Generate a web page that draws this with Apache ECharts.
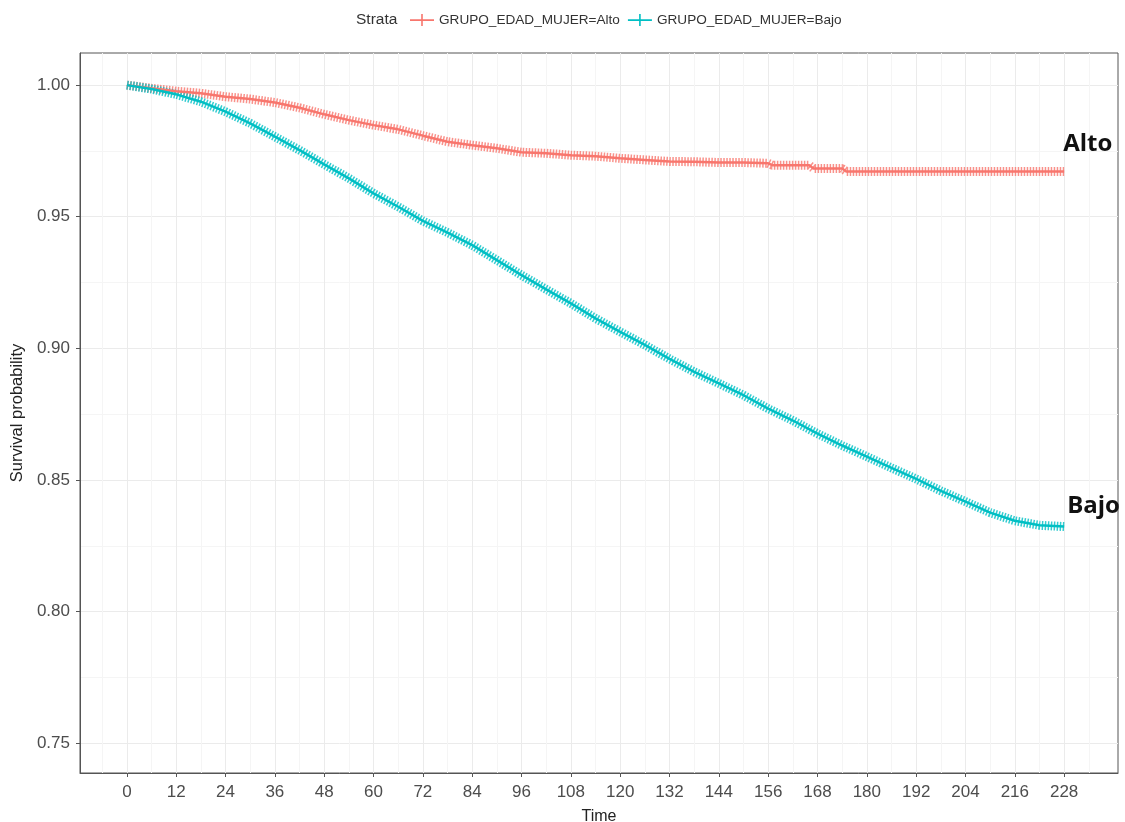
<!DOCTYPE html>
<html>
<head>
<meta charset="utf-8">
<script src="https://cdn.jsdelivr.net/npm/echarts@6/dist/echarts.min.js"></script>
<style>
html,body{margin:0;padding:0;background:#fff;}
#chart{width:1125px;height:822px;}
</style>
</head>
<body>
<div id="chart"></div>
<script>
// ---- data ----
const altoTime = [0, 6, 12, 18, 24, 30, 36, 42, 48, 54, 60, 66, 72, 78, 84, 90, 96, 102, 108, 114, 120, 126, 132, 138, 144, 150, 156, 157, 166, 167, 174, 175, 228];
const altoSurv = [1.000, 0.9988, 0.9977, 0.9969, 0.9956, 0.9947, 0.9934, 0.9914, 0.9889, 0.9867, 0.9848, 0.9832, 0.9808, 0.9785, 0.9772, 0.9760, 0.9745, 0.9741, 0.9734, 0.9730, 0.9722, 0.9716, 0.9710, 0.9709, 0.9706, 0.9706, 0.9703, 0.9696, 0.9696, 0.9683, 0.9683, 0.9672, 0.9672];
const bajoTime = [0, 6, 12, 18, 24, 30, 36, 42, 48, 54, 60, 66, 72, 78, 84, 90, 96, 102, 108, 114, 120, 126, 132, 138, 144, 150, 156, 162, 168, 174, 180, 186, 192, 198, 204, 210, 216, 222, 228];
const bajoSurv = [1.000, 0.9985, 0.9965, 0.9937, 0.9899, 0.9855, 0.9804, 0.9753, 0.9699, 0.9646, 0.9589, 0.9538, 0.9484, 0.9440, 0.9392, 0.9335, 0.9278, 0.9224, 0.9171, 0.9114, 0.9063, 0.9013, 0.8960, 0.8911, 0.8867, 0.8822, 0.8771, 0.8726, 0.8676, 0.8631, 0.8589, 0.8546, 0.8504, 0.8459, 0.8418, 0.8376, 0.8345, 0.8328, 0.8323];
const seriesNames = ['GRUPO_EDAD_MUJER=Alto', 'GRUPO_EDAD_MUJER=Bajo'];
const endLabels = ['Alto', 'Bajo'];
const xTicks = [0, 12, 24, 36, 48, 60, 72, 84, 96, 108, 120, 132, 144, 156, 168, 180, 192, 204, 216, 228];
const xMinor = [-6, 6, 18, 30, 42, 54, 66, 78, 90, 102, 114, 126, 138, 150, 162, 174, 186, 198, 210, 222, 234];
const yTicks = [0.75, 0.80, 0.85, 0.90, 0.95, 1.00];
const yMinor = [0.775, 0.825, 0.875, 0.925, 0.975];
const legendTitle = 'Strata';
const xTitle = 'Time';
const yTitle = 'Survival probability';

const RED = '#F8766D', TEAL = '#00BFC4';
const X_MIN = -11.4, X_MAX = 241.1, Y_MIN = 0.7387, Y_MAX = 1.0122;

const pairs = (t, v) => t.map((x, i) => [x, v[i]]);
const altoData = pairs(altoTime, altoSurv);
const bajoData = pairs(bajoTime, bajoSurv);

const tickFont = {fontFamily: 'Liberation Sans', fontSize: 17, color: '#4d4d4d'};
const axisCol = '#555';
const NONE = 'rgba(0,0,0,0)';

const legendIcon = 'path://M0,5.3 L24,5.3 L24,6.9 L0,6.9 Z M11.2,0 L12.8,0 L12.8,12 L11.2,12 Z';

function mainSeries(name, data, color, label, offset) {
  return {
    type: 'line', name: name, data: data, symbol: 'none', z: 4,
    lineStyle: {color: color, width: 2.5},
    itemStyle: {color: color},
    emphasis: {disabled: true},
    animation: false,
    endLabel: {
      show: true, formatter: label, offset: offset,
      fontFamily: 'Open Sans', fontWeight: 'bold', fontSize: 24, color: '#111'
    }
  };
}
function hatchSeries(name, data, color) {
  return {
    type: 'line', name: name, data: data, symbol: 'none', z: 3, silent: true,
    lineStyle: {color: color, width: 9, type: [1.5, 1.5], opacity: 0.8},
    emphasis: {disabled: true},
    animation: false
  };
}

const chart = echarts.init(document.getElementById('chart'), null, {renderer: 'canvas'});
chart.setOption({
  backgroundColor: '#fff',
  animation: false,
  title: {
    text: legendTitle, left: 351, top: 7,
    textStyle: {fontFamily: 'Liberation Sans', fontSize: 15.5, fontWeight: 'normal', color: '#333'}
  },
  legend: {
    data: seriesNames.map(n => ({name: n, icon: legendIcon})),
    left: 405, top: 8, itemWidth: 24, itemHeight: 12, itemGap: 8,
    textStyle: {fontFamily: 'Liberation Sans', fontSize: 13.6, color: '#333'}
  },
  grid: {left: 80, right: 7, top: 53, bottom: 49, show: true, borderColor: axisCol, borderWidth: 1,
         containLabel: false, outerBoundsMode: 'none'},
  xAxis: [
    {
      type: 'value', min: X_MIN, max: X_MAX, position: 'bottom',
      name: xTitle, nameLocation: 'middle', nameGap: 36,
      nameTextStyle: {fontFamily: 'Liberation Sans', fontSize: 16, color: '#222'},
      axisLine: {show: true, onZero: false, lineStyle: {color: axisCol, width: 1}},
      axisTick: {show: true, length: 4, customValues: xTicks, lineStyle: {color: axisCol}},
      axisLabel: Object.assign({customValues: xTicks, margin: 11}, tickFont),
      splitLine: {show: true, lineStyle: {color: '#ebebeb', width: 1}}
    },
    {
      type: 'value', min: X_MIN, max: X_MAX, position: 'top',
      axisLine: {show: false, onZero: false}, axisLabel: {show: false},
      axisTick: {show: false, length: 0, customValues: xMinor, lineStyle: {color: NONE, width: 0}},
      splitLine: {show: true, lineStyle: {color: '#f5f5f5', width: 1}}
    }
  ],
  yAxis: [
    {
      type: 'value', min: Y_MIN, max: Y_MAX, position: 'left',
      name: yTitle, nameLocation: 'middle', nameGap: 48, nameRotate: 90,
      nameTextStyle: {fontFamily: 'Liberation Sans', fontSize: 16.5, color: '#222'},
      axisLine: {show: true, onZero: false, lineStyle: {color: axisCol, width: 1}},
      axisTick: {show: true, length: 4, customValues: yTicks, lineStyle: {color: axisCol}},
      axisLabel: Object.assign({customValues: yTicks, margin: 10, formatter: v => v.toFixed(2)}, tickFont),
      splitLine: {show: true, lineStyle: {color: '#ebebeb', width: 1}}
    },
    {
      type: 'value', min: Y_MIN, max: Y_MAX, position: 'right',
      axisLine: {show: false, onZero: false}, axisLabel: {show: false},
      axisTick: {show: false, length: 0, customValues: yMinor, lineStyle: {color: NONE, width: 0}},
      splitLine: {show: true, lineStyle: {color: '#f5f5f5', width: 1}}
    }
  ],
  series: [
    hatchSeries('altoHatch', altoData, RED),
    hatchSeries('bajoHatch', bajoData, TEAL),
    mainSeries(seriesNames[0], altoData, RED, endLabels[0], [-9, -27]),
    mainSeries(seriesNames[1], bajoData, TEAL, endLabels[1], [-5, -20])
  ]
});
</script>
</body>
</html>
